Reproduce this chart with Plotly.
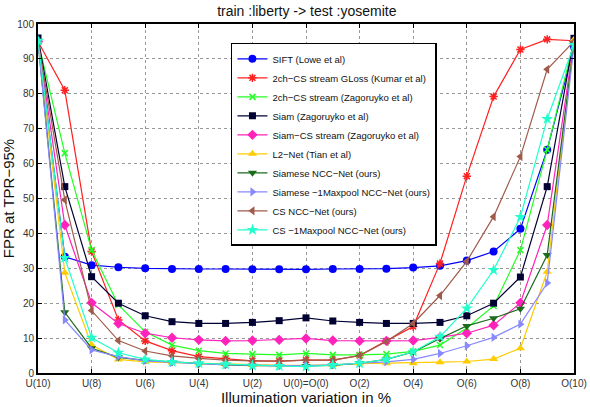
import plotly.graph_objects as go

x_idx = list(range(21))
tick_vals = [0, 2, 4, 6, 8, 10, 12, 14, 16, 18, 20]
tick_text = ["U(10)", "U(8)", "U(6)", "U(4)", "U(2)", "U(0)=O(0)", "O(2)", "O(4)", "O(6)", "O(8)", "O(10)"]

names = [
    "SIFT (Lowe et al)",
    "2ch−CS stream GLoss (Kumar et al)",
    "2ch−CS stream (Zagoruyko et al)",
    "Siam (Zagoruyko et al)",
    "Siam−CS stream (Zagoruyko et al)",
    "L2−Net (Tian et al)",
    "Siamese NCC−Net (ours)",
    "Siamese −1Maxpool NCC−Net (ours)",
    "CS NCC−Net (ours)",
    "CS −1Maxpool NCC−Net (ours)",
]

sift = [95, 33.3, 30.9, 30.3, 30.0, 29.8, 29.8, 29.8, 29.7, 29.7, 29.7, 29.8, 29.8, 29.9, 30.2, 30.7, 32.2, 34.8, 41.3, 64.0, 93.5]
gloss = [95, 81.0, 34.8, 15.2, 9.2, 6.4, 4.7, 4.2, 3.5, 3.4, 3.7, 3.7, 5.0, 9.2, 13.3, 31.4, 56.4, 79.2, 92.7, 95.6, 95.2]
twoch = [95, 63.0, 35.2, 19.5, 11.8, 8.0, 6.4, 5.6, 5.4, 5.2, 5.6, 5.2, 5.2, 5.4, 6.2, 8.0, 12.9, 19.2, 35.2, 64.0, 95.0]
siam = [96, 53.4, 27.6, 20.0, 16.4, 14.7, 14.2, 14.2, 14.5, 15.0, 15.8, 14.9, 14.5, 14.2, 14.2, 14.5, 16.4, 20.0, 27.5, 53.4, 95.9]
siamcs = [95, 42.4, 20.1, 14.2, 11.4, 10.1, 9.5, 9.2, 9.3, 9.5, 9.9, 9.3, 9.2, 9.2, 9.3, 10.2, 11.4, 13.7, 20.1, 42.4, 95.0]
l2net = [95, 28.7, 8.0, 3.9, 3.2, 3.0, 2.8, 2.5, 2.3, 2.2, 2.2, 2.3, 2.7, 2.8, 2.8, 3.1, 3.3, 4.0, 7.1, 29.0, 95.5]
ncc = [95, 17.4, 7.1, 4.5, 3.6, 3.1, 2.6, 2.3, 2.1, 2.0, 2.0, 2.2, 2.8, 3.9, 6.0, 9.9, 13.5, 15.7, 18.4, 33.8, 94.5]
ncc_mp = [95, 15.2, 6.6, 4.7, 3.5, 3.0, 2.7, 2.4, 2.2, 2.1, 2.1, 2.3, 2.8, 3.2, 3.9, 5.6, 7.8, 10.2, 14.0, 25.8, 94.0]
csncc = [95, 49.6, 17.9, 9.3, 6.3, 4.9, 4.2, 3.7, 3.5, 3.4, 3.7, 3.7, 5.0, 9.0, 14.2, 22.2, 32.0, 44.8, 62.0, 87.0, 95.0]
csncc_mp = [95.2, 33.0, 10.1, 5.8, 3.9, 3.2, 2.8, 2.5, 2.1, 2.0, 1.8, 2.3, 2.8, 3.9, 6.1, 10.4, 18.5, 29.5, 44.7, 72.8, 94.0]

series = [sift, gloss, twoch, siam, siamcs, l2net, ncc, ncc_mp, csncc, csncc_mp]
colors = ["#0000ff", "#ff2020", "#22ff22", "#000033", "#ff22bb", "#ffcc00", "#1b6b1b", "#8888ff", "#a05a4a", "#22ffcc"]
symbols = ["circle", "asterisk-open", "x-thin-open", "square", "diamond", "triangle-up",
           "triangle-down", "triangle-right", "triangle-left", "star"]
sizes = [8, 7, 6, 7, 8, 8, 8, 8, 8, 9]

fig = go.Figure()
for name, ys, c, s, sz in zip(names, series, colors, symbols, sizes):
    marker = dict(symbol=s, size=sz, color=c)
    if s.endswith("open"):
        marker["line"] = dict(color=c, width=1.5)
    fig.add_trace(go.Scatter(x=x_idx, y=ys, mode="lines+markers", name=name,
                             line=dict(color=c, width=1.2), marker=marker))

font_family = "Liberation Sans, Arial, sans-serif"
fig.update_layout(
    width=590, height=407,
    margin=dict(l=38, r=16, t=24, b=34),
    paper_bgcolor="white", plot_bgcolor="white",
    font=dict(family=font_family, color="#222"),
    title=dict(text="train :liberty -> test :yosemite", x=0.52, xanchor="center",
               y=0.972, yref="container", yanchor="middle",
               font=dict(size=14, color="#111")),
    showlegend=True,
    legend=dict(x=0.36, y=0.946, xanchor="left", yanchor="top",
                bgcolor="white", bordercolor="black", borderwidth=1.5,
                font=dict(size=9.5, color="#111"), tracegroupgap=0,
                itemwidth=30),
)
fig.update_xaxes(range=[0, 20], tickmode="array", tickvals=tick_vals, ticktext=tick_text,
                 ticks="inside", ticklen=4, tickcolor="black", mirror="ticks",
                 showline=True, linecolor="black", linewidth=2,
                 showgrid=True, gridcolor="#999", griddash="dot", gridwidth=1,
                 zeroline=False, tickfont=dict(size=10, color="#333"),
                 automargin=False, ticklabeloverflow="allow",
                 title=dict(text="Illumination variation in %", standoff=2,
                            font=dict(size=15, color="#111")))
fig.update_yaxes(range=[0, 100], tickmode="linear", tick0=0, dtick=10,
                 ticks="inside", ticklen=4, tickcolor="black", mirror="ticks",
                 showline=True, linecolor="black", linewidth=2,
                 showgrid=True, gridcolor="#999", griddash="dot", gridwidth=1,
                 zeroline=False, tickfont=dict(size=10, color="#333"),
                 automargin=False, ticklabeloverflow="allow",
                 title=dict(text="FPR at TPR−95%", standoff=4,
                            font=dict(size=15, color="#111")))

fig.write_html("out.html", config={"displayModeBar": False},
               post_script="document.body.style.margin='0';")
